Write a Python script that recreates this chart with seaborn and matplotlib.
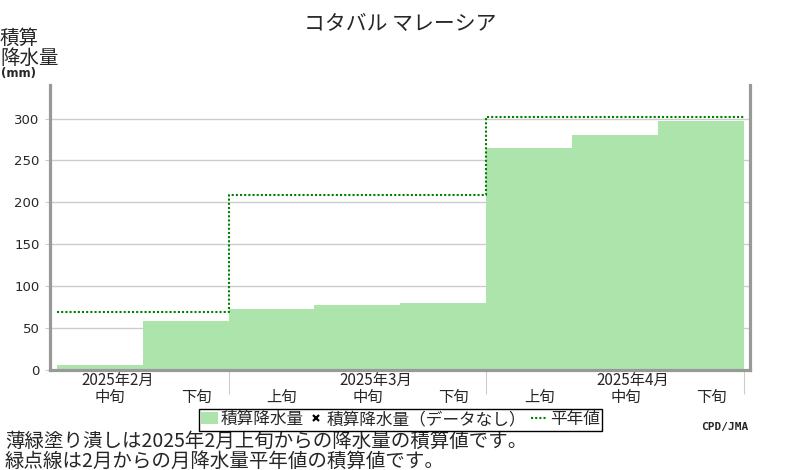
import matplotlib
matplotlib.use("Agg")
import matplotlib.pyplot as plt
from matplotlib.patches import Patch
from matplotlib.lines import Line2D
import seaborn as sns
import pandas as pd
import numpy as np

# ---- data ----
title = "コタバル マレーシア"
dekads = ["中旬", "下旬", "上旬", "中旬", "下旬", "上旬", "中旬", "下旬"]
dekad_ids = ["2月中旬", "2月下旬", "3月上旬", "3月中旬", "3月下旬", "4月上旬", "4月中旬", "4月下旬"]
accum_precip = [6, 59, 73, 78, 80, 265, 280, 297]
months = ["2025年2月", "2025年3月", "2025年4月"]
month_label_dekad = [0, 3, 6]          # dekad index under which month label is drawn
month_edges = [-0.5, 1.5, 4.5, 7.5]    # month boundaries in dekad units
normal_accum = [69, 209, 302]          # accumulated monthly normals
yticks = [0, 50, 100, 150, 200, 250, 300]
notes = ["薄緑塗り潰しは2025年2月上旬からの降水量の積算値です。",
         "緑点線は2月からの月降水量平年値の積算値です。"]

sns.set_style("white")
plt.rcParams['font.family'] = ['Noto Sans CJK JP', 'DejaVu Sans']

fig = plt.figure(figsize=(8, 4.7), dpi=100)
ax = fig.add_axes([50/800, 1-370/470, 700/800, 285/470])

df = pd.DataFrame({"dekad": dekad_ids, "value": accum_precip})
sns.barplot(data=df, x="dekad", y="value", order=dekad_ids, color="#ade4ab",
            saturation=1, width=1.0, linewidth=0, ax=ax, zorder=2)

norm_df = pd.DataFrame({"x": month_edges, "y": normal_accum + [normal_accum[-1]]})
sns.lineplot(data=norm_df, x="x", y="y", drawstyle="steps-post", color="#008000",
             linewidth=1.5, linestyle=(0, (1, 1)), sort=False, ax=ax, zorder=3)

ax.set_xlim(-0.578, 7.57)
ax.set_ylim(0, 340)
ax.set_yticks(yticks)
ax.set_yticklabels([str(v) for v in yticks], family="DejaVu Sans", fontsize=9.5)
ax.yaxis.grid(True, color="#cccccc", linewidth=1.0)
ax.set_axisbelow(True)
ax.tick_params(axis="y", length=3.6, width=0.8, color="#cccccc", pad=4, left=True)
ax.set_xlabel("")
ax.set_ylabel("")

# x axis: month separators as minor ticks, labels via annotations
ax.set_xticks([])
ax.set_xticks(month_edges[1:], minor=True)
ax.tick_params(axis="x", which="minor", length=17, width=0.8, color="#cccccc", bottom=True)

for i, lab in enumerate(dekads):
    ax.annotate(lab, xy=(i + 0.12, 0), xycoords=("data", "axes fraction"),
                xytext=(0, -19.6), textcoords="offset points",
                ha="center", va="center", fontsize=11)
for m, d in zip(months, month_label_dekad):
    ax.annotate(m, xy=(d + 0.21, 0), xycoords=("data", "axes fraction"),
                xytext=(0, -7.6), textcoords="offset points",
                ha="center", va="center", fontsize=11)

for s in ["left", "right", "bottom"]:
    ax.spines[s].set_color("#999999")
    ax.spines[s].set_linewidth(2.3)
ax.spines["top"].set_visible(False)

# titles and notes
fig.text(0.5, 1-24/470, title, ha="center", va="center", fontsize=15)
fig.text(0/800, 1-48/470, "積算\n降水量", ha="left", va="center", fontsize=14,
         linespacing=0.95)
fig.text(1/800, 1-74/470, "(mm)", ha="left", va="center", fontsize=8.5,
         weight="bold", family="DejaVu Sans")
fig.text(5/800, 1-451/470, "\n".join(notes), ha="left", va="center", fontsize=14,
         linespacing=0.95)
fig.text(748/800, 1-427/470, "CPD/JMA", ha="right", va="center", fontsize=8,
         weight="bold", family="DejaVu Sans Mono")

handles = [Patch(facecolor="#ade4ab", edgecolor="none"),
           Line2D([], [], linestyle="none", marker="x", color="black", markersize=5, mew=1.6),
           Line2D([], [], color="#008000", linewidth=1.5, linestyle=(0, (1, 1)))]
labels = ["積算降水量", "積算降水量（データなし）", "平年値"]
leg = fig.legend(handles, labels, loc="center", bbox_to_anchor=(400.5/800, 1-419.5/470),
                 ncol=3, frameon=True, fancybox=False, framealpha=1, edgecolor="black",
                 fontsize=12, handlelength=1.0, handletextpad=0.15, columnspacing=0.25,
                 borderpad=0.15, borderaxespad=0)
leg.get_frame().set_linewidth(1.0)

fig.savefig("out.png", dpi=100)
